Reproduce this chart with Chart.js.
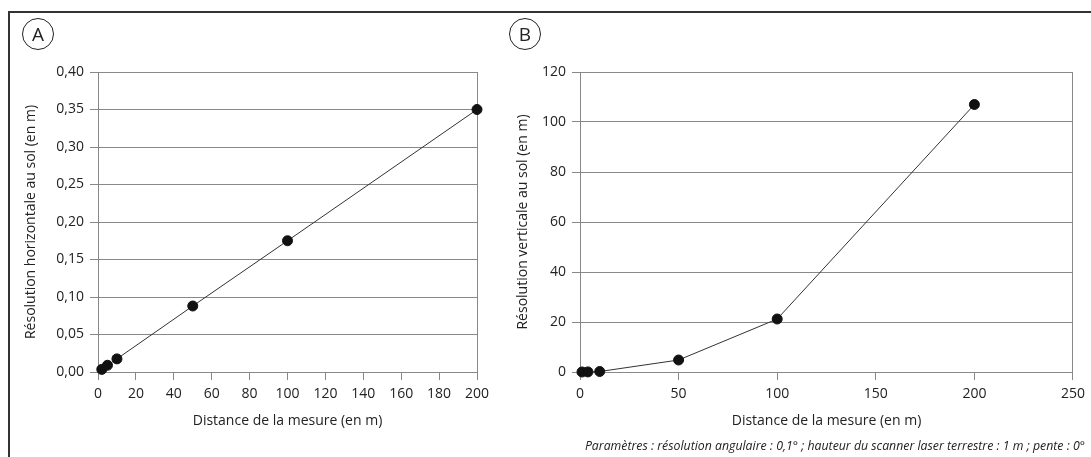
<!DOCTYPE html>
<html>
<head>
<meta charset="utf-8">
<script src="https://cdn.jsdelivr.net/npm/chart.js@4/dist/chart.umd.min.js"></script>
<style>
  html, body { margin: 0; padding: 0; background: #fff; }
  body { width: 1091px; height: 457px; position: relative; overflow: hidden; font-family: "Open Sans", sans-serif; }
  .frame { position: absolute; left: 8px; top: 11px; width: 1200px; height: 600px; border-top: 2px solid #333; border-left: 2px solid #333; }
  .panel { position: absolute; top: 0; height: 457px; }
  #wrapA { left: 0; width: 505px; }
  #wrapB { left: 505px; width: 586px; }
  .badge { position: absolute; width: 30px; height: 30px; border: 1.5px solid #222; border-radius: 50%;
           font-size: 19px; line-height: 30px; text-align: center; color: #222; }
  .note { position: absolute; right: 6px; top: 437px; font-size: 12.3px; font-style: italic; color: #222; white-space: nowrap; }
</style>
</head>
<body>
<div class="frame"></div>
<div class="panel" id="wrapA"><canvas id="chartA"></canvas></div>
<div class="panel" id="wrapB"><canvas id="chartB"></canvas></div>
<div class="badge" style="left:22px;top:18px;">A</div>
<div class="badge" style="left:509px;top:18px;">B</div>
<div class="note">Paramètres : résolution angulaire : 0,1° ; hauteur du scanner laser terrestre : 1 m ; pente : 0°</div>

<script>
// panneau A : résolution horizontale
const distA = [2, 5, 10, 50, 100, 200]
const resHoriz = [0.0035, 0.009, 0.0175, 0.088, 0.175, 0.35]

// panneau B : résolution verticale
const distB = [1, 4, 10, 50, 100, 200]
const resVert = [0.01, 0.04, 0.2, 4.8, 21.2, 107]

const gridGray = '#888'
const txt = '#222'
const font = { family: '"Open Sans", sans-serif', size: 14 }

function makePanel(id, xs, ys, cfg) {
  const points = xs.map((x, i) => ({ x: x, y: ys[i] }))
  const ctx = document.getElementById(id).getContext('2d')

  return new Chart(ctx, {
    type: 'scatter',
    data: {
      datasets: [{
        data: points,
        showLine: true,
        borderColor: '#333',
        borderWidth: 1,
        pointRadius: 5,
        pointHoverRadius: 5,
        pointBackgroundColor: '#111',
        pointBorderColor: '#111',
        clip: false,
      }],
    },
    options: {
      responsive: true,
      maintainAspectRatio: false,
      animation: false,
      layout: { padding: { top: 72, right: cfg.padRight, left: 0, bottom: 0 } },
      plugins: { legend: { display: false }, tooltip: { enabled: false } },
      scales: {
        x: {
          type: 'linear',
          min: 0,
          max: cfg.xMax,
          afterFit: (s) => { s.height = 85 },
          ticks: { stepSize: cfg.xStep, color: txt, font: font, padding: 6, maxRotation: 0 },
          grid: {
            drawOnChartArea: true,
            // seule la ligne de droite est tracée dans la zone du graphe
            color: (c) => (c.tick && c.tick.value === cfg.xMax ? gridGray : 'rgba(0,0,0,0)'),
            tickColor: gridGray,
            tickLength: 8,
          },
          border: { display: true, color: gridGray },
          title: { display: true, text: 'Distance de la mesure (en m)', color: txt, font: font, padding: { top: 0, bottom: 28 } },
        },
        y: {
          min: 0,
          max: cfg.yMax,
          afterFit: (s) => { s.width = cfg.yWidth },
          ticks: { stepSize: cfg.yStep, color: txt, font: font, padding: 6, callback: cfg.fmt },
          grid: { color: gridGray, tickColor: gridGray, tickLength: 8 },
          border: { display: true, color: gridGray },
          title: { display: true, text: cfg.yTitle, color: txt, font: font, padding: { top: cfg.titlePad, bottom: 0 } },
        },
      },
    },
  })
}

makePanel('chartA', distA, resHoriz, {
  xMax: 200, xStep: 20, yMax: 0.4, yStep: 0.05,
  yWidth: 98, padRight: 28, titlePad: 23,
  yTitle: 'Résolution horizontale au sol (en m)',
  fmt: (v) => v.toFixed(2).replace('.', ','),
})

makePanel('chartB', distB, resVert, {
  xMax: 250, xStep: 50, yMax: 120, yStep: 20,
  yWidth: 75, padRight: 16, titlePad: 10,
  yTitle: 'Résolution verticale au sol (en m)',
  fmt: (v) => String(v),
})
</script>
</body>
</html>
